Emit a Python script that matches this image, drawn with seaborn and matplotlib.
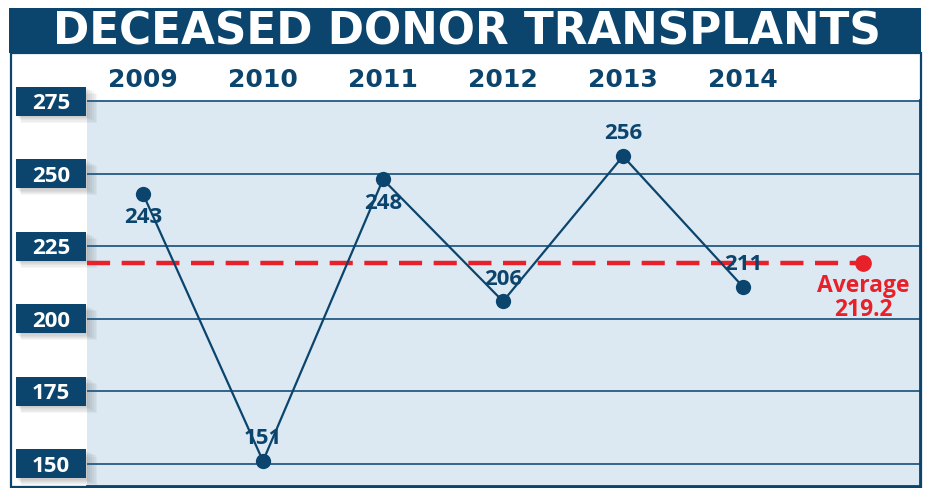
import matplotlib
matplotlib.use("Agg")
import matplotlib.pyplot as plt
import numpy as np
import pandas as pd
import seaborn as sns
from matplotlib.patches import Rectangle
from matplotlib.transforms import blended_transform_factory

# data
years = ["2009", "2010", "2011", "2012", "2013", "2014"]
transplants = [243, 151, 248, 206, 256, 211]
y_ticks = [150, 175, 200, 225, 250, 275]
title = "DECEASED DONOR TRANSPLANTS"

NAVY = "#0b456d"
GRID = "#245b82"
BG = "#dce9f2"
RED = "#e8202a"

W, H = 925, 488


def fx(px):
    return px / W


def fy(py):
    return (H - py) / H


def plot_transplants():
    sns.set_style("white")
    plt.rcParams["font.family"] = ["DejaVu Sans"]

    df = pd.DataFrame({"year": years, "value": transplants})
    df["pos"] = np.arange(len(df))
    average = round(float(df["value"].mean()), 1)

    fig = plt.figure(figsize=(W / 100, H / 100), dpi=100)
    fig.patch.set_facecolor("white")

    # title banner + outer frame
    fig.patches.append(Rectangle((fx(9), fy(53)), fx(912), 45 / H, transform=fig.transFigure,
                                 facecolor=NAVY, edgecolor="none", zorder=0))
    fig.patches.append(Rectangle((fx(10.5), fy(486.5)), fx(910), 434 / H, transform=fig.transFigure,
                                 facecolor="none", edgecolor=NAVY, lw=1.6, zorder=0))
    fig.text(fx(467), fy(32), title, ha="center", va="center", color="white",
             fontsize=31.5, fontweight="heavy", family="DejaVu Sans")

    ax = fig.add_axes([fx(87), fy(486), fx(920 - 87), 386 / H])
    ax.set_facecolor(BG)
    ax.set_axisbelow(True)

    ax.axhline(average, xmax=(6 + 0.4667) / (6.475 + 0.4667), color=RED, lw=3.2,
               dashes=(5.2, 2.6), zorder=2)
    ax.plot([len(years)], [average], "o", color=RED, markersize=11, zorder=3)
    ax.annotate(f"Average\n{average}", (len(years), average), xytext=(0, -8),
                textcoords="offset points", ha="center", va="top", color=RED,
                fontsize=16.5, fontweight="bold", family="Open Sans", linespacing=1.0)

    sns.lineplot(data=df, x="pos", y="value", ax=ax, color=NAVY, lw=1.6,
                 marker="o", markersize=11, markeredgewidth=0, zorder=4)

    below = {"2009", "2011"}
    for _, r in df.iterrows():
        dy = -17 if r["year"] in below else 16
        ax.annotate(str(r["value"]), (r["pos"], r["value"]), xytext=(0, dy),
                    textcoords="offset points", ha="center", va="center", color=NAVY,
                    fontsize=16, fontweight="bold", family="Open Sans", zorder=5)

    ax.set_xlim(-0.4667, 6.475)
    ax.set_ylim(142.4, 275.35)
    ax.set_xticks(df["pos"])
    ax.set_xticklabels(years, fontsize=18, fontweight="heavy", color=NAVY)
    ax.xaxis.tick_top()
    ax.tick_params(axis="x", length=0, pad=6)

    ax.set_yticks(y_ticks)
    ax.set_yticklabels([str(t) for t in y_ticks], ha="center", color="white",
                       fontsize=16, fontweight="bold", family="Open Sans")
    ax.tick_params(axis="y", direction="in", length=22, width=2.2, color=NAVY, pad=26)
    ax.grid(axis="y", color=GRID, lw=1.3)
    ax.grid(axis="x", visible=False)
    ax.set_xlabel("")
    ax.set_ylabel("")

    for side in ["left", "top"]:
        ax.spines[side].set_visible(False)
    for side in ["right", "bottom"]:
        ax.spines[side].set_color(NAVY)
        ax.spines[side].set_linewidth(2)

    # navy boxes behind the y tick labels, with a soft shadow (drawn under the axis layer)
    trans = blended_transform_factory(fig.transFigure, ax.transData)
    upp = 133.0 / 386  # data units per pixel
    for t in y_ticks:
        for k in range(6, 0, -1):
            ax.add_patch(Rectangle((fx(16 + k * 0.9), t - 14.5 * upp - k * 1.2 * upp), fx(70 + k),
                                   29 * upp, transform=trans, facecolor="black", alpha=0.035,
                                   edgecolor="none", clip_on=False, zorder=0.1))
        ax.add_patch(Rectangle((fx(16), t - 14.5 * upp), fx(70), 29 * upp, transform=trans,
                               facecolor=NAVY, edgecolor="none", clip_on=False, zorder=0.2))

    fig.savefig("out.png", dpi=100)


if __name__ == "__main__":
    plot_transplants()
